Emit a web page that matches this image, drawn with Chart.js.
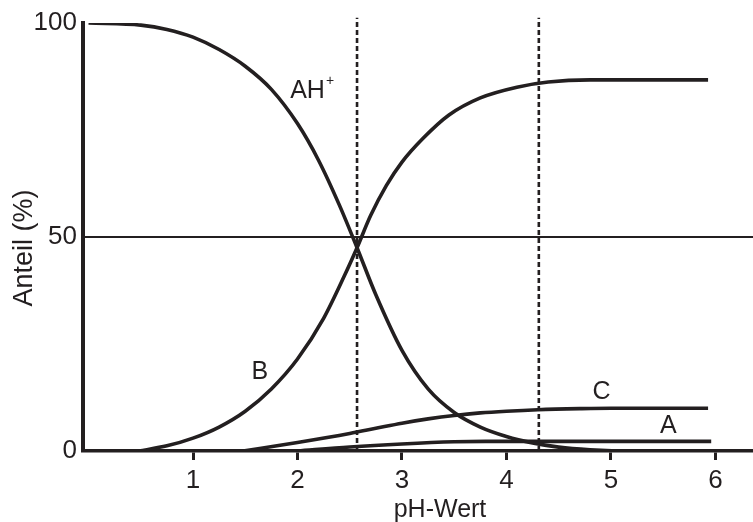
<!DOCTYPE html>
<html><head><meta charset="utf-8">
<script src="https://cdn.jsdelivr.net/npm/chart.js@4.4.1/dist/chart.umd.min.js"></script>
<style>html,body{margin:0;padding:0;background:#fff}#wrap{width:753px;height:522px}</style>
</head><body><div id="wrap"><canvas id="c" width="753" height="522"></canvas></div>
<script>
// pH values and percentages
const phAH  = [0, 0.5, 0.75, 1.0, 1.25, 1.5, 1.75, 2.0, 2.2, 2.4, 2.57, 2.75, 3.0, 3.25, 3.5, 3.75, 4.0, 4.25, 4.5, 4.8, 5.2, 5.95];
const valAH = [100, 99.5, 98.5, 96.7, 93.8, 89.9, 84.5, 76.5, 68.0, 57.5, 47.5, 36.5, 23.5, 14.5, 9.0, 5.6, 3.4, 1.9, 0.9, 0.3, 0, 0];
const phB   = [0.48, 0.75, 1.0, 1.25, 1.5, 1.75, 2.0, 2.25, 2.45, 2.57, 2.7, 2.85, 3.0, 3.2, 3.45, 3.75, 4.1, 4.4, 4.8, 5.93];
const valB  = [0, 1.2, 3.0, 5.6, 9.3, 14.5, 21.5, 31.0, 41.0, 47.5, 55.0, 62.0, 67.5, 73.0, 78.5, 82.5, 85.0, 86.2, 86.7, 86.7];
const phC   = [1.48, 2.0, 2.5, 2.75, 3.0, 3.25, 3.5, 3.75, 4.0, 4.3, 4.7, 5.0, 5.93];
const valC  = [0, 2.0, 4.1, 5.3, 6.5, 7.5, 8.3, 8.9, 9.3, 9.65, 9.9, 10.0, 10.0];
const phA   = [2.0, 2.5, 3.0, 3.5, 3.8, 5.96];
const valA  = [0, 0.95, 1.65, 2.15, 2.25, 2.25];
const markerPH = [2.57, 4.31];
const xTicks = [1, 2, 3, 4, 5, 6];
const yTicks = [0, 50, 100];
const seriesNames = ['AH+', 'B', 'C', 'A'];

const INK = '#231f20';
const FONT = '"Liberation Sans", Arial, sans-serif';
const pts = (xs, ys) => xs.map((v, i) => ({x: v, y: ys[i]}));

const curve = (label, data) => ({
  label, data, showLine: true, borderColor: INK, borderWidth: 3.6,
  pointRadius: 0, cubicInterpolationMode: 'monotone', fill: false
});

const datasets = [
  curve(seriesNames[0], pts(phAH, valAH)),
  curve(seriesNames[1], pts(phB, valB)),
  curve(seriesNames[2], pts(phC, valC)),
  curve(seriesNames[3], pts(phA, valA)),
  ...markerPH.map(p => ({
    label: 'pH ' + p, data: [{x: p, y: 0}, {x: p, y: 101.2}], showLine: true,
    borderColor: INK, borderWidth: 2.6, borderDash: [5, 3], pointRadius: 0, clip: false
  }))
];

const labelPos = [
  {text: 'AH', sup: '+', x: 1.93, y: 84.1},
  {text: 'B', x: 1.64, y: 18.5, center: true},
  {text: 'C', x: 4.91, y: 13.8, center: true},
  {text: 'A', x: 5.55, y: 5.8, center: true}
];

const textPlugin = {
  id: 'texts',
  afterDraw(chart) {
    const {ctx, scales: {x, y}} = chart;
    ctx.save();
    ctx.fillStyle = INK;
    ctx.textBaseline = 'middle';
    ctx.font = '25px ' + FONT;
    labelPos.forEach(l => {
      const px = x.getPixelForValue(l.x), py = y.getPixelForValue(l.y);
      ctx.textAlign = l.center ? 'center' : 'left';
      ctx.fillText(l.text, px, py);
      if (l.sup) {
        const w = ctx.measureText(l.text).width;
        ctx.font = '14px ' + FONT;
        ctx.textAlign = 'left';
        ctx.fillText(l.sup, px + w + 1, py - 10);
        ctx.font = '25px ' + FONT;
      }
    });
    // axis titles
    ctx.font = '25px ' + FONT;
    ctx.textAlign = 'center';
    ctx.fillText('pH-Wert', 440, 510);
    ctx.translate(25, 248);
    ctx.rotate(-Math.PI / 2);
    ctx.font = '27px ' + FONT;
    ctx.fillText('Anteil (%)', 0, 0);
    ctx.restore();
  }
};

new Chart(document.getElementById('c'), {
  type: 'scatter',
  data: {datasets},
  options: {
    responsive: false, animation: false, devicePixelRatio: 1,
    layout: {padding: {top: 23, right: 0, left: 0, bottom: 0}},
    plugins: {legend: {display: false}, tooltip: {enabled: false}},
    scales: {
      x: {
        type: 'linear', min: -0.053, max: 6.36,
        afterBuildTicks: s => { s.ticks = xTicks.map(v => ({value: v})); },
        afterFit: s => { s.height = 71; },
        border: {display: true, width: 3.5, color: INK},
        grid: {drawOnChartArea: false, drawTicks: true, tickLength: 9, tickWidth: 3, tickColor: INK},
        ticks: {color: INK, font: {family: FONT, size: 26}, padding: 5, maxRotation: 0}
      },
      y: {
        type: 'linear', min: 0, max: 100,
        afterBuildTicks: s => { s.ticks = yTicks.map(v => ({value: v})); },
        afterFit: s => { s.width = 83; },
        border: {display: true, width: 4, color: INK},
        grid: {drawTicks: false, lineWidth: 2,
               color: c => (c.tick && c.tick.value === 50) ? INK : 'rgba(0,0,0,0)'},
        ticks: {color: INK, font: {family: FONT, size: 26}, padding: 6}
      }
    }
  },
  plugins: [textPlugin]
});
</script>
</body></html>
